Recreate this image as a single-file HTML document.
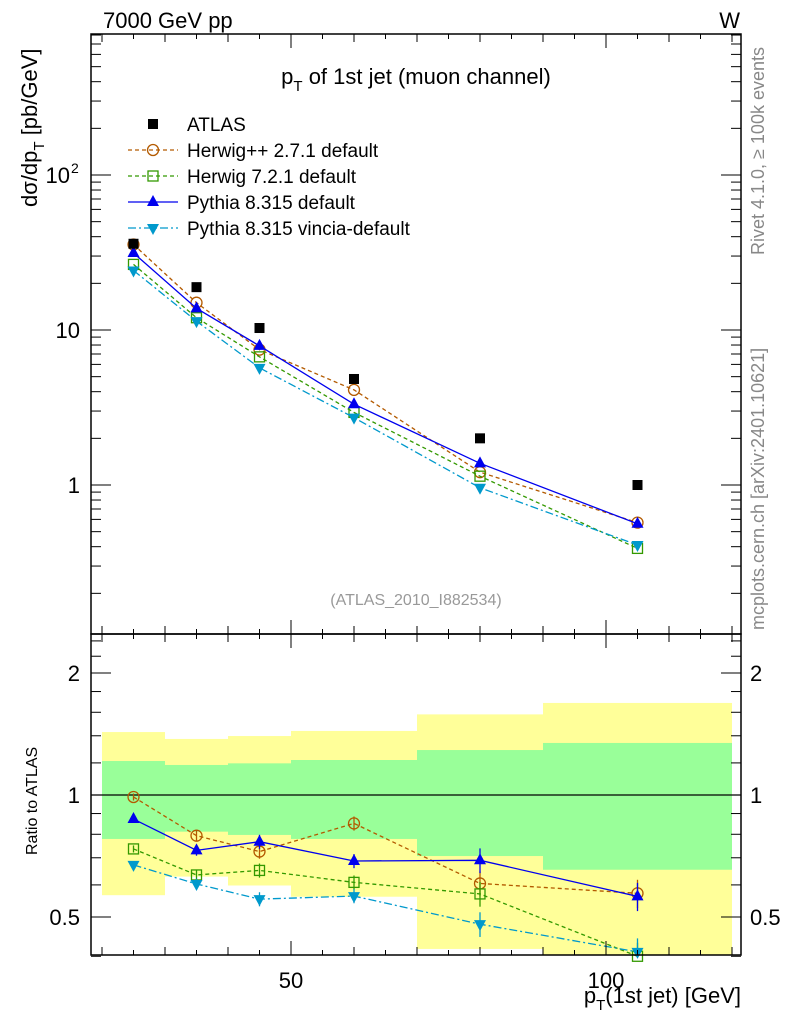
<!DOCTYPE html>
<html><head><meta charset="utf-8"><style>
body{margin:0;background:#fff;}
svg{display:block;font-family:"Liberation Sans",sans-serif;}
</style></head><body>
<svg id="c" width="786" height="1024" viewBox="0 0 786 1024" xmlns="http://www.w3.org/2000/svg">
<text x="103" y="28" font-size="22">7000 GeV pp</text>
<text x="740" y="28" font-size="22" text-anchor="end">W</text>
<text x="416" y="84" font-size="22" text-anchor="middle">p<tspan font-size="15" dy="7">T</tspan><tspan dy="-7"> of 1st jet (muon channel)</tspan></text>
<text transform="translate(37,207) rotate(-90)" font-size="22">dσ/dp<tspan font-size="15" dy="7">T</tspan><tspan dy="-7"> [pb/GeV]</tspan></text>
<text transform="translate(37,855) rotate(-90)" font-size="16">Ratio to ATLAS</text>
<text x="741" y="1003" font-size="22" text-anchor="end">p<tspan font-size="15" dy="7">T</tspan><tspan dy="-7">(1st jet) [GeV]</tspan></text>
<text transform="translate(764,255) rotate(-90)" font-size="18" fill="#888">Rivet 4.1.0, ≥ 100k events</text>
<text transform="translate(764,630) rotate(-90)" font-size="18" fill="#888">mcplots.cern.ch [arXiv:2401.10621]</text>
<text x="416" y="605" font-size="16" fill="#999" text-anchor="middle">(ATLAS_2010_I882534)</text>
<g id="bands"></g><g id="marks"></g><g id="axes"></g><g id="legend"></g>
</svg>
<script>
const binLo=[20,30,40,50,70,90];
const binHi=[30,40,50,70,90,120];
const xCenters=[25,35,45,60,80,105];
const atlas=[36,18.9,10.3,4.83,2.0,1.0];
const herwigpp=[35.6,15.0,7.47,4.11,1.21,0.572];
const herwig7=[26.5,12.0,6.71,2.94,1.14,0.39];
const pythia=[31.4,13.8,7.90,3.32,1.38,0.562];
const vincia=[24.2,11.4,5.70,2.72,0.96,0.41];
const mcErr=[0.02,0.03,0.04,0.04,0.07,0.08];
const bandTotUp=[0.430,0.375,0.398,0.439,0.581,0.687];
const bandTotDn=[0.434,0.371,0.402,0.439,0.583,0.65];
const bandStatUp=[0.213,0.186,0.197,0.220,0.291,0.344];
const bandStatDn=[0.221,0.188,0.203,0.221,0.293,0.346];
const yMainTicks=[1,10,100];
const yMainLabels=["1","10","10"];
const yRatioTicks=[0.5,1,2];
const yRatioLabels=["0.5","1","2"];
const xTicks=[50,100];
const xTickLabels=["50","100"];

const L=91,R=741,T=34,M=634,B=955;
const X=v=>291+(v-50)*6.3;
const Y=v=>330-(Math.log10(v)-1)*155;
const YR=v=>795-Math.log2(v)*122;
const NS="http://www.w3.org/2000/svg";
function mk(parent,tag,a){const e=document.createElementNS(NS,tag);for(const k in a)e.setAttribute(k,a[k]);document.getElementById(parent).appendChild(e);return e;}

for(let i=0;i<binLo.length;i++){
  const y1=YR(Math.min(1+bandTotUp[i],2.5)),y2=Math.min(YR(Math.max(1-bandTotDn[i],0.4)),B);
  const r=mk('bands','rect',{x:X(binLo[i]),y:y1,width:X(binHi[i])-X(binLo[i]),height:y2-y1,fill:'#ffff99'});
  
  
  const g1=YR(1+bandStatUp[i]),g2=YR(1-bandStatDn[i]);
  const g=mk('bands','rect',{x:X(binLo[i]),y:g1,width:X(binHi[i])-X(binLo[i]),height:g2-g1,fill:'#99ff99'});
  
  
}
const one=mk('bands','line',{x1:L,x2:R,y1:YR(1),y2:YR(1),stroke:'#000','stroke-width':1.2});



function marker(shape,x,y,col,name){
  let e;
  if(shape==='sq') e=mk('marks','rect',{x:x-5,y:y-5,width:10,height:10,fill:'#000'});
  else if(shape==='circ') e=mk('marks','circle',{cx:x,cy:y,r:5.5,fill:'none',stroke:col,'stroke-width':1.3});
  else if(shape==='osq') e=mk('marks','rect',{x:x-5,y:y-5,width:10,height:10,fill:'none',stroke:col,'stroke-width':1.3});
  else if(shape==='up') e=mk('marks','polygon',{points:`${x},${y-7} ${x-6},${y+4} ${x+6},${y+4}`,fill:col});
  else e=mk('marks','polygon',{points:`${x},${y+7} ${x-6},${y-4} ${x+6},${y-4}`,fill:col});
  
  
}
const series=[
 {v:herwigpp,col:'#b35a00',dash:'4,3',sh:'circ',n:'herwigpp'},
 {v:herwig7,col:'#339900',dash:'4,3',sh:'osq',n:'herwig7'},
 {v:pythia,col:'#0000ee',dash:'',sh:'up',n:'pythia'},
 {v:vincia,col:'#0099cc',dash:'8,3,2,3',sh:'down',n:'vincia'}];
for(const s of series){
  const pm=s.v.map((v,i)=>X(xCenters[i])+','+Y(v)).join(' ');
  const l=mk('marks','polyline',{points:pm,fill:'none',stroke:s.col,'stroke-width':1.3,'stroke-dasharray':s.dash});
  
  
  const ratio=s.v.map((v,i)=>Math.max(v/atlas[i],0.4));
  const pr=ratio.map((r,i)=>X(xCenters[i])+','+YR(r)).join(' ');
  const lr=mk('marks','polyline',{points:pr,fill:'none',stroke:s.col,'stroke-width':1.3,'stroke-dasharray':s.dash});
  
  
  for(let i=0;i<xCenters.length;i++){
    const x=X(xCenters[i]);
    const eb=mk('marks','line',{x1:x,x2:x,y1:YR(ratio[i]*(1+mcErr[i])),y2:Math.min(YR(ratio[i]*(1-mcErr[i])),B),stroke:s.col,'stroke-width':1.3});
    
    
    marker(s.sh,x,Y(s.v[i]),s.col,s.n+'-point');
    marker(s.sh,x,YR(ratio[i]),s.col,s.n+'-ratio-point');
  }
}
for(let i=0;i<xCenters.length;i++) marker('sq',X(xCenters[i]),Y(atlas[i]),'#000','atlas-point');

function ln(x1,y1,x2,y2,w,name){const e=mk('axes','line',{x1,y1,x2,y2,stroke:'#000','stroke-width':w||1});return e;}
const f1=mk('axes','rect',{x:L,y:T,width:R-L,height:M-T,fill:'none',stroke:'#000','stroke-width':1.5});


const f2=mk('axes','rect',{x:L,y:M,width:R-L,height:B-M,fill:'none',stroke:'#000','stroke-width':1.5});


for(let v=20;v<=120;v+=5){
  const x=X(v);const major=xTicks.includes(v);const len=major?14:(v%10===0?8:5);
  for(const [yb,ytp] of [[M,T],[B,M]]){
    ln(x,yb,x,yb-len,1,'x-tick');ln(x,ytp,x,ytp+len,1,'x-tick');
  }
}
xTicks.forEach((v,i)=>{const t=mk('axes','text',{x:X(v),y:988,'font-size':22,'text-anchor':'middle'});t.textContent=xTickLabels[i];});
for(let d=-1;d<=2;d++)for(let m=1;m<10;m++){
  const v=m*Math.pow(10,d);const y=Y(v);if(y<T||y>M)continue;
  const len=m===1?20:10;ln(L,y,L+len,y,1,'y-tick');ln(R,y,R-len,y,1,'y-tick');
}
yMainTicks.forEach((v,i)=>{const xr=v===100?70:80;const t=mk('axes','text',{x:xr,y:Y(v)+8,'font-size':22,'text-anchor':'end'});t.textContent=yMainLabels[i];
  if(v===100){const s=mk('axes','text',{x:71,y:Y(v)-2,'font-size':14});s.textContent='2';}});
const rmin=[0.4,0.6,0.7,0.8,0.9,1.2,1.4,1.6,1.8,2.2,2.4];
rmin.forEach(v=>{const y=YR(v);ln(L,y,L+10,y,1,'ratio-minor-tick');ln(R,y,R-10,y,1,'ratio-minor-tick');});
yRatioTicks.forEach((v,i)=>{const y=YR(v);ln(L,y,L+20,y,1,'ratio-major-tick');ln(R,y,R-20,y,1,'ratio-major-tick');
  const t=mk('axes','text',{x:80,y:y+8,'font-size':22,'text-anchor':'end'});t.textContent=yRatioLabels[i];
  const t2=mk('axes','text',{x:750,y:y+8,'font-size':22});t2.textContent=yRatioLabels[i];});

const leg=[['ATLAS','#000','','sq'],['Herwig++ 2.7.1 default','#b35a00','4,3','circ'],['Herwig 7.2.1 default','#339900','4,3','osq'],['Pythia 8.315 default','#0000ee','','up'],['Pythia 8.315 vincia-default','#0099cc','8,3,2,3','down']];
leg.forEach((e,i)=>{const y=124+i*26;
  if(i>0){const l=mk('legend','line',{x1:128,x2:178,y1:y,y2:y,stroke:e[1],'stroke-width':1.3,'stroke-dasharray':e[2]});}
  const g=document.getElementById('marks');
  marker(e[3],153,y,e[1],'legend-marker');document.getElementById('legend').appendChild(g.lastChild);
  const t=mk('legend','text',{x:187,y:y+7,'font-size':19});t.textContent=e[0];});
</script>
</body></html>
